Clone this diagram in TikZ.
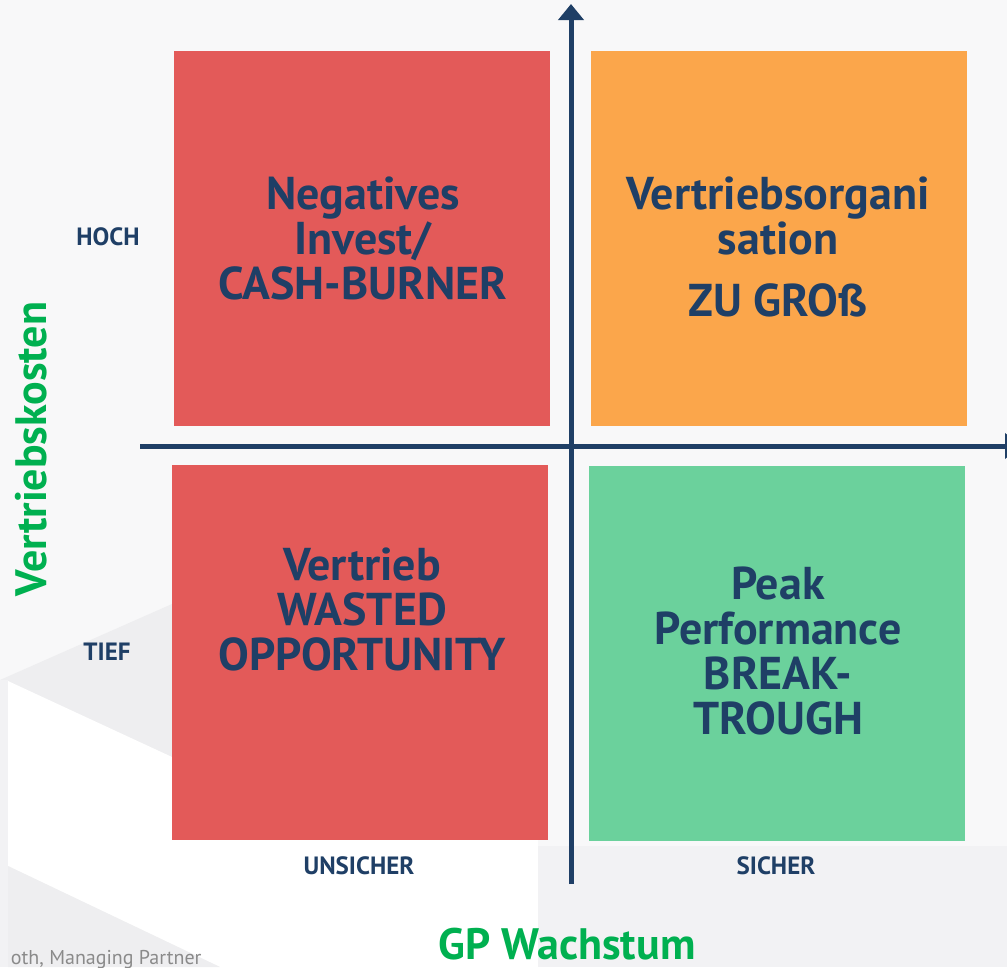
\documentclass[tikz,border=0pt]{standalone}
\usepackage{fontspec}
\setmainfont{PT Sans}
\usetikzlibrary{arrows.meta, positioning}
\definecolor{navy}{HTML}{1F3F66}
\definecolor{burnred}{HTML}{E35A59}
\definecolor{bigorange}{HTML}{FBA64B}
\definecolor{peakgreen}{HTML}{6BD19C}
\definecolor{titlegreen}{HTML}{00B050}
\definecolor{bgplain}{HTML}{F8F8F9}
\definecolor{bgshade}{HTML}{EEEEF0}
\definecolor{bglight}{HTML}{F2F2F4}
\definecolor{footgrey}{HTML}{8A8A8A}

\begin{document}
\begin{tikzpicture}[x=1pt,y=-1pt,
        >={Triangle[width=25pt,length=16pt]},
        field/.style={rectangle, minimum width=376pt, minimum height=375pt, inner sep=0pt},
        fieldtext/.style={text=navy, align=center, font=\fontsize{46}{45}\selectfont\bfseries},
        level/.style={text=navy, font=\fontsize{25}{25}\selectfont\bfseries},
        axistitle/.style={text=titlegreen, font=\fontsize{44}{44}\selectfont\bfseries},
        axisline/.style={draw=navy, line width=5pt},
        ]

        % background with the faint slide shapes
        \useasboundingbox (0,0) rectangle (1007,967);
        \fill[bgplain] (0,0) rectangle (1007,967);
        \fill[bgshade] (0,680) -- (172,604) -- (172,757) -- cycle;
        \fill[bglight] (0,680) rectangle (8,967);
        \fill[white] (8,681) -- (172,757) -- (172,840) -- (538,840) -- (538,967)
                -- (220,967) -- (8,866) -- cycle;
        \fill[bgshade] (8,866) -- (220,967) -- (8,967) -- cycle;
        \fill[bglight] (538,846) rectangle (1007,967);

        % the four fields
        \node[field, fill=burnred]   (burner) at (362,238.5) {};
        \node[field, fill=bigorange] (toobig) at (778.5,238.5) {};
        \node[field, fill=burnred]   (wasted) at (359.5,652.5) {};
        \node[field, fill=peakgreen] (peak)   at (776.5,653.5) {};

        \node[fieldtext] (burnertext) at (363,238) {Negatives\\Invest/\\CASH-BURNER};
        \node[fieldtext] (toobigtext) at (778,247) {Vertriebsorgani\\sation\\[17pt]ZU GROß};
        \node[fieldtext] (wastedtext) at (362,609) {Vertrieb\\WASTED\\OPPORTUNITY};
        \node[fieldtext] (peaktext)   at (778,651) {Peak\\Performance\\BREAK-\\TROUGH};

        % axes
        \coordinate (ybottom) at (571,884);
        \coordinate (ytop)    at (571,4);
        \coordinate (xleft)   at (140,446);
        \coordinate (xright)  at (1021,446);
        \draw[axisline,->] (ybottom) -- (ytop);
        \draw[axisline,->] (xleft) -- (xright);

        % levels and axis titles
        \node[level] (high)   at (108,237) {HOCH};
        \node[level] (low)    at (107,652) {TIEF};
        \node[level] (unsafe) at (359,866) {UNSICHER};
        \node[level] (safe)   at (776,866) {SICHER};

        \node[axistitle, rotate=90] (costs)  at (31,449) {Vertriebskosten};
        \node[axistitle, anchor=base, inner sep=0pt] (growth) at (567,959) {GP Wachstum};

        \node[text=footgrey, anchor=base east, font=\fontsize{20}{20}\selectfont] (footer) at (205,964) {oth, Managing Partner};
\end{tikzpicture}
\end{document}
